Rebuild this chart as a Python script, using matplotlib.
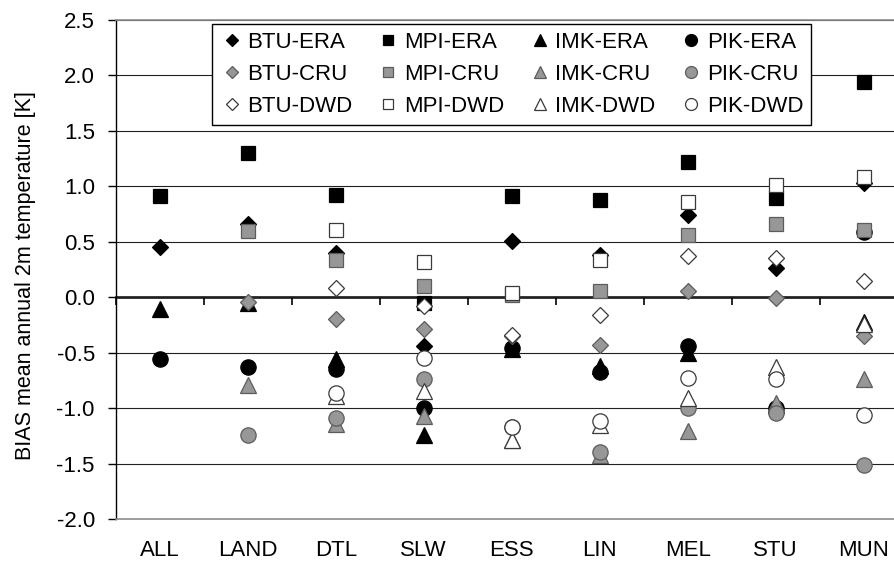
import numpy as np
import matplotlib
matplotlib.use("Agg")
import matplotlib.pyplot as plt
from matplotlib.ticker import FormatStrFormatter

plt.rcParams['font.family'] = ['Liberation Sans', 'DejaVu Sans']
plt.rcParams['axes.unicode_minus'] = False

nan = np.nan
categories = ["ALL", "LAND", "DTL", "SLW", "ESS", "LIN", "MEL", "STU", "MUN"]

# ERA driven
btu_era = [0.45, 0.66, 0.40, -0.44, 0.505, 0.38, 0.745, 0.265, 1.03]
mpi_era = [0.91, 1.30, 0.925, -0.05, 0.91, 0.88, 1.22, 0.895, 1.945]
imk_era = [-0.11, -0.05, -0.56, -1.24, -0.47, -0.62, -0.50, -0.97, -0.22]
pik_era = [-0.56, -0.63, -0.65, -1.00, -0.46, -0.67, -0.44, -1.00, 0.585]
# CRU reference
btu_cru = [nan, -0.04, -0.20, -0.29, -0.35, -0.43, 0.055, -0.005, -0.35]
mpi_cru = [nan, 0.60, 0.34, 0.10, 0.02, 0.055, 0.56, 0.66, 0.605]
imk_cru = [nan, -0.79, -1.14, -1.07, -1.29, -1.42, -1.21, -0.95, -0.74]
pik_cru = [nan, -1.24, -1.09, -0.74, -1.17, -1.40, -1.00, -1.04, -1.51]
# DWD reference
btu_dwd = [nan, nan, 0.085, -0.08, -0.34, -0.16, 0.37, 0.355, 0.149]
mpi_dwd = [nan, nan, 0.61, 0.315, 0.04, 0.34, 0.86, 1.01, 1.085]
imk_dwd = [nan, nan, -0.89, -0.85, -1.29, -1.15, -0.91, -0.63, -0.24]
pik_dwd = [nan, nan, -0.86, -0.55, -1.17, -1.12, -0.73, -0.74, -1.06]

series = [
    ("BTU-ERA", btu_era), ("MPI-ERA", mpi_era), ("IMK-ERA", imk_era), ("PIK-ERA", pik_era),
    ("BTU-CRU", btu_cru), ("MPI-CRU", mpi_cru), ("IMK-CRU", imk_cru), ("PIK-CRU", pik_cru),
    ("BTU-DWD", btu_dwd), ("MPI-DWD", mpi_dwd), ("IMK-DWD", imk_dwd), ("PIK-DWD", pik_dwd),
]

marker_of = {"BTU": ("D", 8.0), "MPI": ("s", 9.5), "IMK": ("^", 11.0), "PIK": ("o", 11.0)}
style_of = {"ERA": ("#000000", "#000000"),
            "CRU": ("#979797", "#5c5c5c"),
            "DWD": ("#ffffff", "#3a3a3a")}

W, H = 895, 561
fig = plt.figure(figsize=(W / 100, H / 100), dpi=100)
left_px, right_px, top_px, bot_px = 115.7, 907.7, 20, 519
ax = fig.add_axes([left_px / W, (H - bot_px) / H, (right_px - left_px) / W, (bot_px - top_px) / H])

x = np.arange(len(categories))
handles = {}
for i, (name, vals) in enumerate(series):
    inst, ref = name.split("-")
    m, ms = marker_of[inst]
    fc, ec = style_of[ref]
    h, = ax.plot(x, vals, ls="none", marker=m, ms=ms, mfc=fc, mec=ec, mew=0.9,
                 zorder=3 + i, label=name, clip_on=False)
    handles[name] = h

ax.set_xlim(-0.5, len(categories) - 0.5)
ax.set_ylim(-2.0, 2.5)
ax.set_yticks(np.arange(-2.0, 2.51, 0.5))
ax.yaxis.set_major_formatter(FormatStrFormatter('%.1f'))
ax.set_xticks(x)
ax.set_xticklabels(categories)
ax.tick_params(axis='x', length=0, pad=15, labelsize=16)
ax.tick_params(axis='y', direction='out', length=6, width=1, labelsize=16, pad=9)

ax.set_axisbelow(True)
ax.yaxis.grid(True, color="#202020", lw=0.8)
ax.spines['right'].set_visible(False)
ax.spines['top'].set_color("#8c8c8c")
ax.spines['bottom'].set_color("#8c8c8c")
ax.spines['top'].set_linewidth(1.2)
ax.spines['bottom'].set_linewidth(1.2)
ax.spines['left'].set_color("black")
ax.spines['left'].set_linewidth(1.0)

ax.set_ylabel("BIAS mean annual 2m temperature [K]", fontsize=15.5, va="center")
ax.yaxis.set_label_coords((26 - left_px) / (right_px - left_px), (bot_px - 276) / (bot_px - top_px))

# category axis crossing at zero
zero_loc = (0 - (-2.0)) / (2.5 - (-2.0))
sec = ax.secondary_xaxis(zero_loc)
sec.set_xticks(np.arange(len(categories) + 1) - 0.5)
sec.tick_params(direction='out', length=6, width=1.2, color='black', labelbottom=False, labeltop=False)
sec.set_xticklabels([])
for s in sec.spines.values():
    s.set_linewidth(1.8)
    s.set_color('black')

order = []
for inst in ["BTU", "MPI", "IMK", "PIK"]:
    for ref in ["ERA", "CRU", "DWD"]:
        order.append(f"{inst}-{ref}")
leg = ax.legend([handles[n] for n in order], order, ncol=4, loc="upper left",
                bbox_to_anchor=(212 / W, 1 - 24 / H), bbox_transform=fig.transFigure,
                borderaxespad=0, fontsize=16, frameon=True, fancybox=False,
                edgecolor="black", framealpha=1, markerscale=0.78,
                handlelength=1.1, handletextpad=0.15, columnspacing=1.05,
                labelspacing=0.5, borderpad=0.35)
leg.get_frame().set_linewidth(1.0)
leg.set_zorder(30)

fig.savefig("out.png", dpi=100)
